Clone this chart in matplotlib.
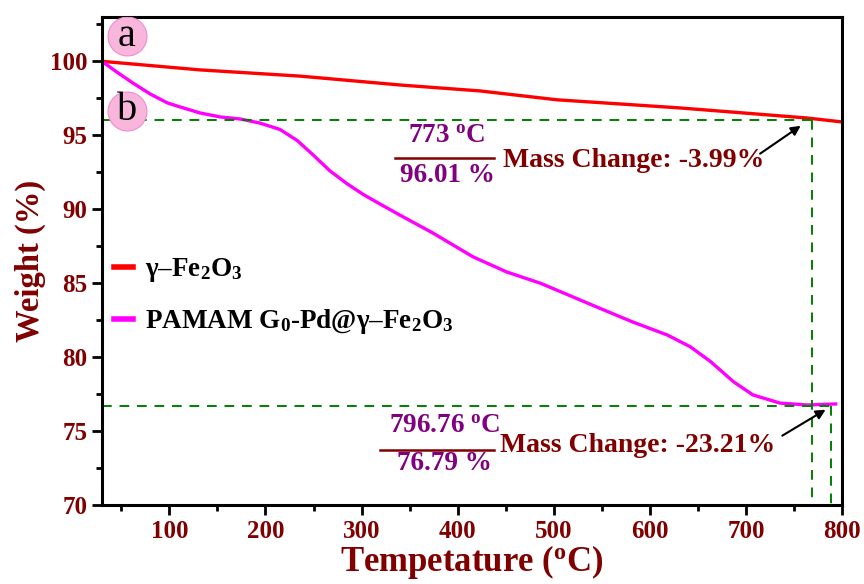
import matplotlib
matplotlib.use("Agg")
import matplotlib.pyplot as plt
from matplotlib.ticker import MultipleLocator

plt.rcParams['font.family'] = ['Liberation Serif', 'DejaVu Serif']
plt.rcParams['font.weight'] = 'bold'
plt.rcParams['mathtext.fontset'] = 'custom'
plt.rcParams['mathtext.rm'] = 'Liberation Serif:bold'
plt.rcParams['mathtext.it'] = 'Liberation Serif:bold'
plt.rcParams['mathtext.bf'] = 'Liberation Serif:bold'

# TGA data
temp_fe2o3 = [30, 132, 236, 340, 423, 503, 631, 763, 800]
wt_fe2o3 = [100.0, 99.42, 99.0, 98.4, 98.0, 97.4, 96.85, 96.17, 95.9]

temp_pamam = [30, 46, 62, 80, 98, 111, 132, 153, 174, 194, 215, 233, 250, 267,
              285, 302, 319, 340, 374, 416, 451, 486, 520, 548, 582, 618, 642,
              663, 687, 707, 735, 764, 793]
wt_pamam = [100.0, 99.25, 98.54, 97.8, 97.19, 96.92, 96.51, 96.24, 96.1, 95.83,
            95.4, 94.65, 93.65, 92.6, 91.72, 90.99, 90.36, 89.6, 88.4, 86.78,
            85.76, 85.0, 84.07, 83.3, 82.38, 81.5, 80.7, 79.7, 78.33, 77.45,
            76.9, 76.77, 76.84]

label_fe2o3 = r'$\gamma$–Fe$_{2}$O$_{3}$'
label_pamam = r'PAMAM G$_{0}$-Pd@$\gamma$–Fe$_{2}$O$_{3}$'

# marked points (temperature, weight) and the mass change texts
mark1 = (768, 96.01)
mark2 = (788, 76.7)
frac1 = ('773 $^{\\mathrm{o}}$C', '96.01 %', 'Mass Change: -3.99%')
frac2 = ('796.76 $^{\\mathrm{o}}$C', '76.79 %', 'Mass Change: -23.21%')

darkred = '#800000'
purple = '#800080'
green = '#008000'
pink = '#f9b6dc'

fig = plt.figure(figsize=(8.64, 5.84), dpi=100)
ax = fig.add_axes([0.118, 0.135, 0.857, 0.836])

ax.plot(temp_fe2o3, wt_fe2o3, color='#ff0000', lw=2.4, label=label_fe2o3)
ax.plot(temp_pamam, wt_pamam, color='#ff00ff', lw=2.4, label=label_pamam)

# dashed guide lines
dash = dict(color=green, lw=1.4, ls=(0, (5, 4)))
ax.plot([30, mark1[0]], [mark1[1], mark1[1]], **dash)
ax.plot([mark1[0], mark1[0]], [mark1[1], 70], **dash)
ax.plot([30, mark2[0]], [mark2[1], mark2[1]], **dash)
ax.plot([mark2[0], mark2[0]], [mark2[1], 70], **dash)

ax.set_xlim(30, 800)
ax.set_ylim(70, 103)
ax.set_xticks(range(100, 801, 100))
ax.xaxis.set_minor_locator(MultipleLocator(50))
ax.yaxis.set_major_locator(MultipleLocator(5))
ax.yaxis.set_minor_locator(MultipleLocator(2.5))
ax.tick_params(which='both', direction='out', width=2, top=False, right=False,
               labelsize=18, labelcolor=darkred)
ax.tick_params(which='major', length=7)
ax.tick_params(which='minor', length=4)
for s in ax.spines.values():
    s.set_linewidth(2.2)

ax.set_xlabel('Tempetature ($^{\\mathrm{o}}$C)', fontsize=25, weight='bold',
              color=darkred, labelpad=0)
ax.set_ylabel('Weight (%)', fontsize=23.5, weight='bold', color=darkred, labelpad=3)

# a / b circle labels
for lab, yy in [('a', 101.68), ('b', 96.65)]:
    ax.plot([56], [yy], 'o', ms=28, mfc=pink, mec='#f08ccc', mew=0.8, zorder=4)
    ax.text(56, yy, lab, fontsize=29, weight='normal', ha='center', va='center', zorder=5)

# fraction annotations
ax.text(389, 94.95, frac1[0], fontsize=19.5, color=purple, ha='center', va='center')
ax.plot([335, 438], [93.47, 93.47], color=darkred, lw=1.8)
ax.text(389, 92.25, frac1[1], fontsize=19.5, color=purple, ha='center', va='center')
ax.text(447, 93.3, frac1[2], fontsize=20, color=darkred, ha='left', va='center')
ax.annotate('', xy=(759, 95.75), xytext=(712, 93.65),
            arrowprops=dict(arrowstyle='-|>', color='black', lw=1.5, mutation_scale=14))

ax.text(386, 75.3, frac2[0], fontsize=19.5, color=purple, ha='center', va='center')
ax.plot([319, 438], [73.75, 73.75], color=darkred, lw=1.8)
ax.text(386, 72.8, frac2[1], fontsize=19.5, color=purple, ha='center', va='center')
ax.text(444, 74.0, frac2[2], fontsize=20, color=darkred, ha='left', va='center')
ax.annotate('', xy=(785, 76.55), xytext=(735, 74.6),
            arrowprops=dict(arrowstyle='-|>', color='black', lw=1.5, mutation_scale=14))

leg = ax.legend(loc='upper left', bbox_to_anchor=(-0.017, 0.56), frameon=False,
                fontsize=19.5, handlelength=0.7, handletextpad=0.45, labelspacing=0.85)
for h in leg.get_lines():
    h.set_linewidth(4)

fig.savefig('out.png', dpi=100)
